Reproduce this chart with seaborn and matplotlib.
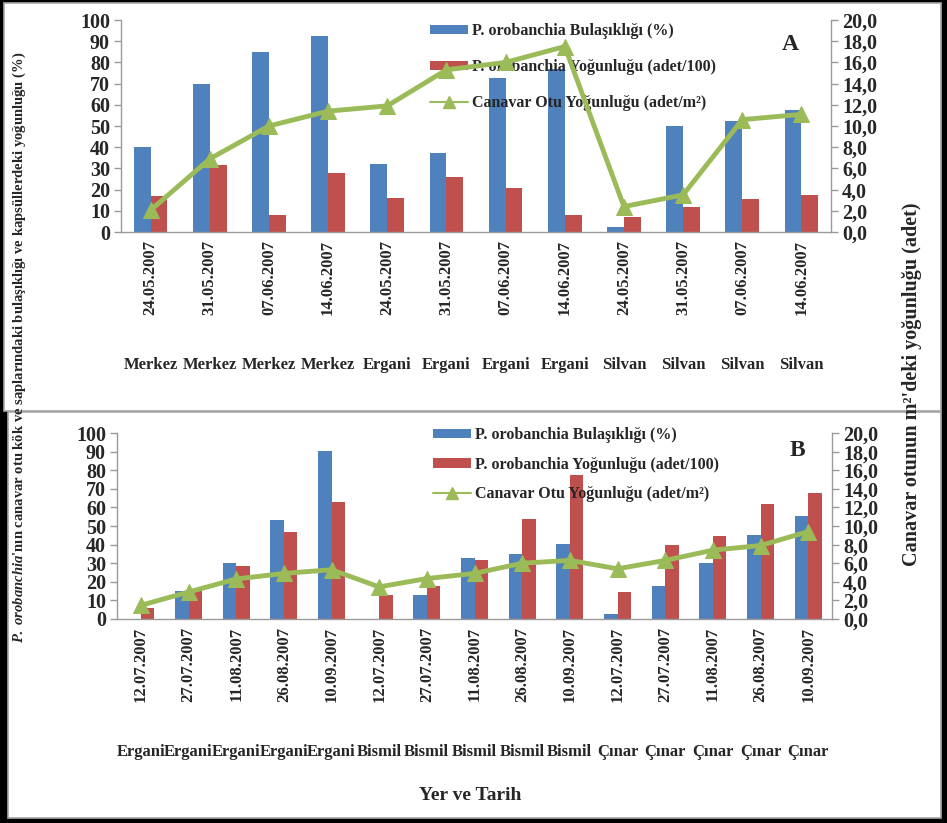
import numpy as np
import pandas as pd
import matplotlib
matplotlib.use("Agg")
import matplotlib.pyplot as plt
import seaborn as sns
from matplotlib.patches import Patch, Rectangle
from matplotlib.lines import Line2D
from matplotlib.ticker import FuncFormatter, MultipleLocator

# ---------------- data ----------------
series_names = ["P. orobanchia Bulaşıklığı (%)",
                "P. orobanchia Yoğunluğu (adet/100)",
                "Canavar Otu Yoğunluğu (adet/m²)"]

a_locations = ["Merkez"] * 4 + ["Ergani"] * 4 + ["Silvan"] * 4
a_dates = ["24.05.2007", "31.05.2007", "07.06.2007", "14.06.2007"] * 3
a_infection = [40, 70, 85, 92.4, 32.3, 37.5, 72.8, 77, 2.2, 50, 52.3, 57.5]
a_density = [17, 31.7, 8.2, 28, 16.2, 25.8, 20.8, 8.2, 6.9, 12, 15.6, 17.6]
a_weed = [2.05, 6.9, 10.0, 11.4, 11.9, 15.3, 16.0, 17.5, 2.4, 3.5, 10.6, 11.1]

b_locations = ["Ergani"] * 5 + ["Bismil"] * 5 + ["Çınar"] * 5
b_dates = ["12.07.2007", "27.07.2007", "11.08.2007", "26.08.2007", "10.09.2007"] * 3
b_infection = [0, 15.3, 30.2, 53, 90.5, 0, 12.7, 32.9, 35.2, 40.2, 2.7, 17.8, 30.2, 45.4, 55.3]
b_density = [5.9, 15.5, 28.7, 47, 62.8, 12.7, 17.8, 31.8, 53.7, 77.2, 14.5, 39.7, 44.5, 61.8, 67.9]
b_weed = [1.47, 2.9, 4.3, 4.9, 5.3, 3.45, 4.35, 4.9, 6.0, 6.3, 5.4, 6.3, 7.4, 7.9, 9.4]

BLUE = "#4F81BD"
RED = "#C0504D"
GREEN = "#9BBB59"
GRAY = "#9A9A9A"

# ---------------- style ----------------
sns.set_style("white")
plt.rcParams["font.family"] = ["Liberation Serif", "DejaVu Serif"]
plt.rcParams["font.weight"] = "bold"
plt.rcParams["mathtext.fontset"] = "custom"
plt.rcParams["mathtext.it"] = "Liberation Serif:italic"
plt.rcParams["mathtext.rm"] = "Liberation Serif"

W, H = 947, 823
fig = plt.figure(figsize=(W / 100, H / 100), dpi=100)
fig.patch.set_facecolor("black")


def px_rect(x0, y0, x1, y1):
    return [x0 / W, 1 - y1 / H, (x1 - x0) / W, (y1 - y0) / H]


# panel frames
for (x0, y0, x1, y1) in [(4, 3, 941, 411), (8, 412, 941, 818)]:
    fig.add_artist(Rectangle((x0 / W, 1 - y1 / H), (x1 - x0) / W, (y1 - y0) / H,
                             transform=fig.transFigure, facecolor="white",
                             edgecolor="#A8A8A8", linewidth=1.2, zorder=-10))


def draw_panel(rect, locations, dates, infection, density, weed, letter,
               letter_xy, legend_xy, labelspacing):
    n = len(dates)
    ax = fig.add_axes(rect)
    ax.set_facecolor("none")
    df = pd.DataFrame({
        "idx": list(range(n)) * 2,
        "value": infection + density,
        "series": [series_names[0]] * n + [series_names[1]] * n,
    })
    sns.barplot(data=df, x="idx", y="value", hue="series",
                hue_order=series_names[:2], palette=[BLUE, RED],
                width=0.57, gap=0, saturation=1, errorbar=None,
                legend=False, ax=ax, linewidth=0)
    ax.set_ylim(0, 100)
    ax.yaxis.set_major_locator(MultipleLocator(10))
    ax.set_xlabel("")
    ax.set_ylabel("")
    for s in ["top", "right"]:
        ax.spines[s].set_visible(False)
    for s in ["left", "bottom"]:
        ax.spines[s].set_color(GRAY)
        ax.spines[s].set_linewidth(1)
    ax.tick_params(axis="y", which="major", length=5, width=1, color=GRAY,
                   direction="out", labelsize=14.5, pad=3)
    for t in ax.get_yticklabels():
        t.set_fontweight("bold")

    ax.set_xticks(range(n))
    ax.set_xticklabels(dates, rotation=90, fontsize=12, fontweight="bold")
    ax.tick_params(axis="x", which="major", length=0, pad=6)
    ax.set_xticks(np.arange(n + 1) - 0.5, minor=True)
    ax.tick_params(axis="x", which="minor", length=110, width=0.9,
                   color="#A8A8A8", direction="out")

    for i, loc in enumerate(locations):
        ax.annotate(loc, xy=(i, 0), xycoords=("data", "axes fraction"),
                    xytext=(0, -96), textcoords="offset points",
                    ha="center", va="center", fontsize=12, fontweight="bold")

    ax2 = ax.twinx()
    sns.lineplot(x=np.arange(n), y=weed, ax=ax2, color=GREEN, linewidth=3.5,
                 marker="^", markersize=11, markeredgecolor=GREEN,
                 markerfacecolor=GREEN)
    ax2.set_ylim(0, 20)
    ax2.set_xlim(-0.5, n - 0.5)
    ax2.yaxis.set_major_locator(MultipleLocator(2))
    ax2.yaxis.set_major_formatter(
        FuncFormatter(lambda v, p: f"{v:.1f}".replace(".", ",")))
    ax2.set_ylabel("")
    for s in ["top", "left", "bottom"]:
        ax2.spines[s].set_visible(False)
    ax2.spines["right"].set_color(GRAY)
    ax2.spines["right"].set_linewidth(1)
    ax2.tick_params(axis="y", length=5, width=1, color=GRAY, direction="out",
                    labelsize=14.5, pad=3)
    for t in ax2.get_yticklabels():
        t.set_fontweight("bold")

    handles = [Patch(facecolor=BLUE, edgecolor="none"),
               Patch(facecolor=RED, edgecolor="none"),
               Line2D([], [], color=GREEN, linewidth=1.5, marker="^",
                      markersize=8, markeredgecolor=GREEN)]
    ax.legend(handles, series_names, loc="upper left",
              bbox_to_anchor=(legend_xy[0] / W, 1 - legend_xy[1] / H),
              bbox_transform=fig.transFigure, frameon=False,
              prop={"family": "Liberation Serif", "weight": "bold", "size": 11.5},
              handlelength=2.35, handleheight=0.55, handletextpad=0.3,
              labelspacing=labelspacing, borderpad=0, borderaxespad=0)
    fig.text(letter_xy[0] / W, 1 - letter_xy[1] / H, letter, ha="center",
             va="center", fontsize=17, fontweight="bold")
    return ax, ax2


draw_panel(px_rect(121, 20, 831, 232), a_locations, a_dates, a_infection,
           a_density, a_weed, "A", (790, 45), (430, 23), 1.25)
draw_panel(px_rect(117, 433, 832, 619), b_locations, b_dates, b_infection,
           b_density, b_weed, "B", (797, 450), (433, 427), 0.85)

fig.text(19 / W, 1 - 347 / H,
         r"$\mathit{P.\ orobanchia}$'nın canavar otu kök ve saplarındaki "
         "bulaşıklığı ve kapsüllerdeki yoğunluğu (%)",
         rotation=90, ha="center", va="center", fontsize=10.5, fontweight="bold")
fig.text(912 / W, 1 - 384 / H, "Canavar otunun m²'deki yoğunluğu (adet)",
         rotation=90, ha="center", va="center", fontsize=14.5, fontweight="bold")
fig.text(470 / W, 1 - 795 / H, "Yer ve Tarih", ha="center", va="center",
         fontsize=14, fontweight="bold")

fig.savefig("out.png", dpi=100, facecolor=fig.get_facecolor())
